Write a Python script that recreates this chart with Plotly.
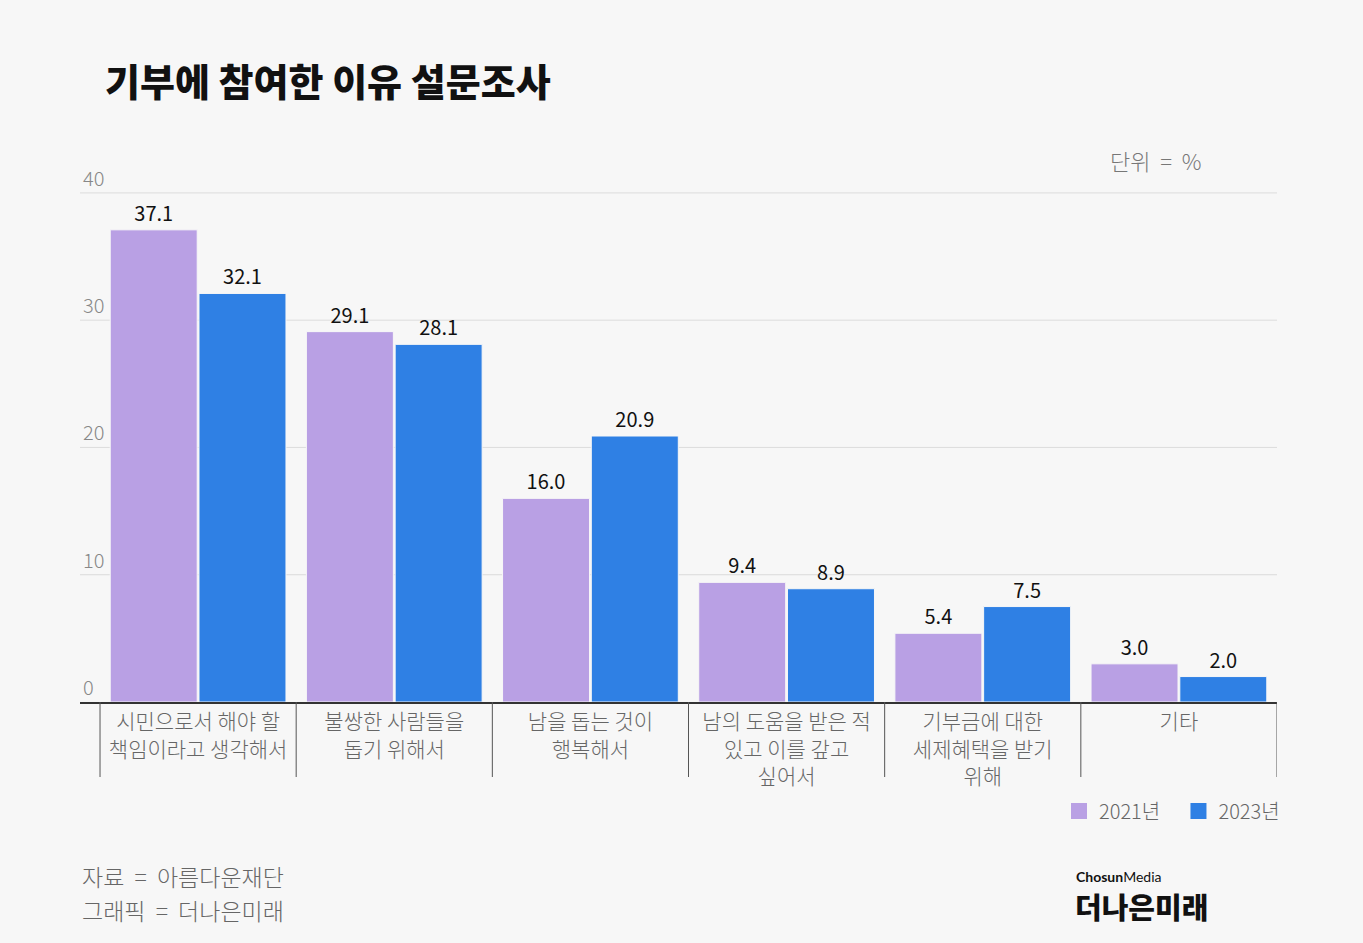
import plotly.graph_objects as go

categories = [
    "시민으로서 해야 할<br>책임이라고 생각해서",
    "불쌍한 사람들을<br>돕기 위해서",
    "남을 돕는 것이<br>행복해서",
    "남의 도움을 받은 적<br>있고 이를 갚고<br>싶어서",
    "기부금에 대한<br>세제혜택을 받기<br>위해",
    "기타",
]
series_names = ["2021년", "2023년"]
values_2021 = [37.1, 29.1, 16.0, 9.4, 5.4, 3.0]
values_2023 = [32.1, 28.1, 20.9, 8.9, 7.5, 2.0]
y_ticks = [0, 10, 20, 30, 40]
colors = ["#B9A0E4", "#2F80E4"]

FONT = "Noto Sans CJK KR"
W, H = 1363, 943
Y_MAX = 44
L, R, B = 80, 86, 241
T = 702 - Y_MAX * (509 / 40)
PH = H - T - B
PW = W - L - R
NB = "\u00a0"


def px_y(y):
    return (H - B - y) / PH


def px_x(x):
    return (x - L) / PW


x_idx = list(range(len(categories)))

fig = go.Figure()
for i, (name, vals, col) in enumerate(zip(series_names, [values_2021, values_2023], colors)):
    fig.add_trace(go.Bar(
        x=x_idx, y=vals, name=name, marker=dict(color=col, line=dict(color="#F7F7F7", width=1)),
        text=[f"{v:.1f}" for v in vals], textposition="outside", cliponaxis=False,
        textfont=dict(family=FONT, size=20, color="#111111"),
        showlegend=False,
    ))
    fig.add_trace(go.Scatter(
        x=[None], y=[None], mode="markers",
        name=name + (NB * 3 if i == 0 else ""),
        marker=dict(symbol="square", size=22, color=col), showlegend=True,
    ))

# category dividers at the category boundaries
for b in [i - 0.5 for i in range(len(categories) + 1)]:
    fig.add_shape(type="line", xref="x", yref="paper", x0=b, x1=b, y0=0, y1=-75 / PH,
                  line=dict(color="#555555", width=1))

fig.update_layout(
    width=W, height=H,
    paper_bgcolor="#F7F7F7", plot_bgcolor="#F7F7F7",
    margin=dict(l=L, r=R, t=T, b=B),
    barmode="group", bargap=0.095, bargroupgap=0.02,
    font=dict(family=FONT),
    title=dict(text="기부에 참여한 이유 설문조사", xref="container", yref="container",
               x=105 / W, y=1 - 83 / H, xanchor="left", yanchor="middle",
               font=dict(family=FONT, size=38, color="#111111", weight=900)),
    legend=dict(orientation="h", x=px_x(1285), xanchor="right", y=px_y(811), yanchor="middle",
                font=dict(family=FONT, size=20, color="#666666", weight=300),
                bgcolor="rgba(0,0,0,0)", itemwidth=30, traceorder="normal"),
    xaxis=dict(
        tickmode="array", tickvals=x_idx, ticktext=categories,
        range=[-0.5 - 20 / 196, 5.5], showgrid=False, zeroline=False,
        showline=True, linecolor="#333333", linewidth=2, ticks="",
        tickfont=dict(family=FONT, size=21, color="#666666", weight=300),
        fixedrange=True,
    ),
    yaxis=dict(
        range=[0, Y_MAX], tickvals=y_ticks, ticktext=[str(v) for v in y_ticks],
        showgrid=False, zeroline=False, showline=False,
        ticklabelposition="inside top", ticks="",
        tickfont=dict(family=FONT, size=20, color="#888888", weight=300),
    ),
    annotations=[
        dict(text=f"단위{NB}{NB}={NB}{NB}%", xref="paper", yref="paper", x=px_x(1203),
             y=px_y(160), xanchor="right", yanchor="middle",
             showarrow=False, font=dict(family=FONT, size=22, color="#777777", weight=300)),
        dict(text=f"자료{NB}{NB}={NB}{NB}아름다운재단", xref="paper", yref="paper", x=px_x(80),
             y=px_y(876), xanchor="left", yanchor="middle",
             showarrow=False, font=dict(family=FONT, size=23, color="#666666", weight=300)),
        dict(text=f"그래픽{NB}{NB}={NB}{NB}더나은미래", xref="paper", yref="paper", x=px_x(80),
             y=px_y(910), xanchor="left", yanchor="middle",
             showarrow=False, font=dict(family=FONT, size=23, color="#666666", weight=300)),
        dict(text="<b>Chosun</b>Media", xref="paper", yref="paper", x=px_x(1074),
             y=px_y(876), xanchor="left", yanchor="middle",
             showarrow=False, font=dict(family="Lato", size=14, color="#111111")),
        dict(text="더나은미래", xref="paper", yref="paper", x=px_x(1073),
             y=px_y(906), xanchor="left", yanchor="middle",
             showarrow=False, font=dict(family=FONT, size=29, color="#111111", weight=900)),
    ],
)

# horizontal gridlines at the y tick values (drawn in data coordinates)
for v in y_ticks[1:]:
    fig.add_shape(type="line", xref="paper", yref="y", x0=0, x1=1, y0=v, y1=v,
                  line=dict(color="#DCDCDC", width=1), layer="below")

fig.write_html("out.html", config={"displayModeBar": False},
               post_script="document.body.style.margin='0';")
